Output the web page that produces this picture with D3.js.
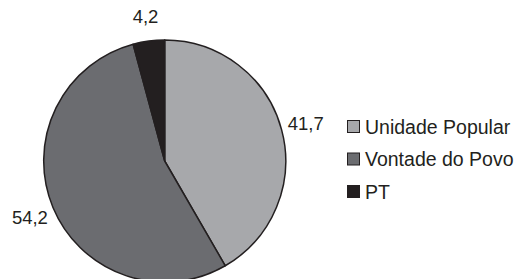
<!DOCTYPE html>
<html><head><meta charset="utf-8">
<script src="https://cdn.jsdelivr.net/npm/d3@7"></script>
<style>html,body{margin:0;padding:0;background:#fff}</style>
</head><body>
<svg id="c" width="521" height="279"></svg>
<script>
const categories = ["Unidade Popular", "Vontade do Povo", "PT"];
const values = [41.7, 54.2, 4.2];
const labels = ["41,7", "54,2", "4,2"];
const colors = ["#a7a8ab", "#6b6c70", "#231f20"];

const svg = d3.select("#c");
const cx = 164.7, cy = 161, r = 121, lr = 146;
const font = "'Liberation Sans', Arial, sans-serif";
const pie = d3.pie().sort(null).value(d => d)(values);
const arc = d3.arc().innerRadius(0).outerRadius(r);
const labelArc = d3.arc().innerRadius(lr).outerRadius(lr);
const g = svg.append("g").attr("transform", `translate(${cx},${cy})`);
g.selectAll("path").data(pie).join("path")
  .attr("d", arc)
  .attr("fill", (d, i) => colors[i])
  .attr("stroke", "#231f20").attr("stroke-width", 1.5).attr("stroke-linejoin", "round");
g.selectAll("text").data(pie).join("text")
  .attr("transform", d => `translate(${labelArc.centroid(d)})`)
  .attr("text-anchor", "middle").attr("dominant-baseline", "central")
  .attr("font-family", font).attr("font-size", 18.5).attr("fill", "#231f20")
  .text((d, i) => labels[i]);

const leg = svg.append("g").attr("transform", "translate(347,120)");
const rows = leg.selectAll("g").data(categories).join("g")
  .attr("transform", (d, i) => `translate(0,${i * 32.5})`);
rows.append("rect").attr("x", 0.5).attr("y", 0.5).attr("width", 12).attr("height", 12)
  .attr("fill", (d, i) => colors[i]).attr("stroke", "#231f20").attr("stroke-width", 1);
rows.append("text").attr("x", 18).attr("y", 6.5).attr("dominant-baseline", "central")
  .attr("font-family", font).attr("font-size", 19.5).attr("fill", "#231f20")
  .text(d => d);
</script>
</body></html>
